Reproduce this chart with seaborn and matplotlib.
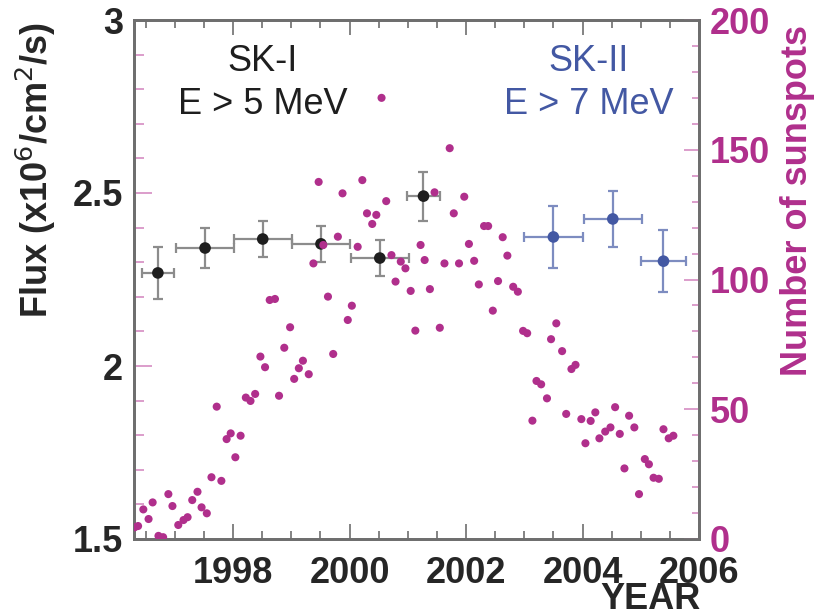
import matplotlib
matplotlib.use("Agg")
import matplotlib.pyplot as plt
from matplotlib.ticker import MultipleLocator
import seaborn as sns
import pandas as pd

# Monthly sunspot numbers
sunspot_year = [
    1996.31, 1996.37, 1996.46, 1996.55, 1996.62, 1996.72, 1996.80, 1996.89, 1996.96,
    1997.06, 1997.15, 1997.22, 1997.30, 1997.39, 1997.46, 1997.55, 1997.63, 1997.72,
    1997.80, 1997.89, 1997.96, 1998.04, 1998.13, 1998.22, 1998.30, 1998.38, 1998.47,
    1998.55, 1998.63, 1998.72, 1998.79, 1998.88, 1998.98, 1999.05, 1999.13, 1999.20,
    1999.30, 1999.38, 1999.47, 1999.55, 1999.63, 1999.72, 1999.80, 1999.88, 1999.97,
    2000.04, 2000.14, 2000.22, 2000.30, 2000.39, 2000.46, 2000.55, 2000.63, 2000.72,
    2000.79, 2000.88, 2000.96, 2001.05, 2001.13, 2001.22, 2001.29, 2001.38, 2001.46,
    2001.55, 2001.63, 2001.72, 2001.79, 2001.88, 2001.97, 2002.05, 2002.14, 2002.22,
    2002.31, 2002.38, 2002.46, 2002.55, 2002.63, 2002.71, 2002.81, 2002.89, 2002.98,
    2003.05, 2003.14, 2003.21, 2003.29, 2003.39, 2003.46, 2003.55, 2003.65, 2003.72,
    2003.81, 2003.88, 2003.98, 2004.05, 2004.14, 2004.22, 2004.29, 2004.39, 2004.48,
    2004.56, 2004.64, 2004.72, 2004.80, 2004.89, 2004.97, 2005.07, 2005.14, 2005.22,
    2005.31, 2005.39, 2005.48, 2005.56,
]
sunspot_count = [
    4.5, 5.0, 11.4, 7.7, 14.1, 1.2, 0.7, 17.3, 12.7,
    5.4, 7.3, 8.4, 15.0, 18.2, 12.2, 9.9, 23.8, 51.0,
    22.4, 38.5, 40.7, 31.5, 39.8, 54.5, 53.2, 55.9, 70.3,
    66.2, 92.1, 92.5, 55.2, 73.7, 81.6, 61.7, 65.8, 68.7,
    63.5, 106.2, 137.6, 113.3, 93.4, 71.3, 116.5, 133.2, 84.4,
    89.9, 112.6, 138.3, 125.5, 121.4, 124.9, 170.0, 130.2, 109.4,
    99.2, 106.9, 104.3, 95.6, 80.3, 113.3, 107.5, 96.3, 133.6,
    81.4, 106.2, 150.6, 125.5, 106.2, 131.9, 113.7, 107.2, 98.1,
    120.6, 120.6, 88.0, 99.4, 116.3, 109.2, 97.2, 95.3, 80.2,
    79.3, 45.6, 60.9, 59.6, 54.2, 77.0, 83.1, 72.4, 48.2,
    65.5, 67.1, 46.2, 36.9, 45.5, 48.8, 38.8, 41.4, 43.0,
    50.8, 40.5, 27.2, 47.5, 43.0, 17.3, 30.8, 28.8, 23.6,
    23.2, 42.3, 38.8, 39.8,
]

# Solar neutrino flux, SK-I (E > 5 MeV)
ski_year = [1996.71, 1997.52, 1998.51, 1999.51, 2000.52, 2001.27]
ski_year_halfwidth = [0.28, 0.5, 0.5, 0.5, 0.5, 0.28]
ski_flux = [2.269, 2.341, 2.367, 2.353, 2.312, 2.491]
ski_flux_err = [0.074, 0.058, 0.052, 0.053, 0.052, 0.071]

# Solar neutrino flux, SK-II (E > 7 MeV)
skii_year = [2003.50, 2004.52, 2005.39]
skii_year_halfwidth = [0.5, 0.5, 0.39]
skii_flux = [2.373, 2.425, 2.303]
skii_flux_err = [0.09, 0.081, 0.09]

year_ticks = [1998, 2000, 2002, 2004, 2006]
flux_ticks = [1.5, 2, 2.5, 3]
flux_tick_labels = ["1.5", "2", "2.5", "3"]
sunspot_ticks = [0, 50, 100, 150, 200]

sns.set_style("white")
plt.rcParams["font.family"] = ["Liberation Sans", "DejaVu Sans"]

MAGENTA = "#b02f8c"
PINK_TICK = "#d58cc2"
FRAME = "#6e6e6e"
BLACK = "#1e1e1e"
BLUE = "#4358a3"
BLUE_LIGHT = "#7d8cc0"
GREY_BAR = "#8c8c8c"

fig = plt.figure(figsize=(8.26, 6.12), dpi=100)
ax = fig.add_axes([134 / 826, 1 - 539 / 612, (699 - 134) / 826, (539 - 20) / 612])

# SK-I flux points
ax.errorbar(ski_year, ski_flux, yerr=ski_flux_err, xerr=ski_year_halfwidth,
            fmt="none", ecolor=GREY_BAR, elinewidth=1.6, capsize=3.8, capthick=1.6,
            zorder=2)
sns.scatterplot(x=ski_year, y=ski_flux, ax=ax, color=BLACK, s=70,
                edgecolor="none", zorder=3)

# SK-II flux points
ax.errorbar(skii_year, skii_flux, yerr=skii_flux_err, xerr=skii_year_halfwidth,
            fmt="none", ecolor=BLUE_LIGHT, elinewidth=1.6, capsize=3.8, capthick=1.6,
            zorder=2)
sns.scatterplot(x=skii_year, y=skii_flux, ax=ax, color=BLUE, s=70,
                edgecolor="none", zorder=3)

ax.set_xlim(1996.3, 2006.0)
ax.set_ylim(1.5, 3.0)

ax.set_xticks(year_ticks)
ax.set_xticklabels([str(y) for y in year_ticks])
ax.xaxis.set_minor_locator(MultipleLocator(0.5))
ax.set_yticks(flux_ticks)
ax.set_yticklabels(flux_tick_labels)
ax.yaxis.set_minor_locator(MultipleLocator(0.1))

ax.tick_params(axis="x", which="both", direction="in", top=True, bottom=True,
               color=FRAME, width=1.2, labelsize=26, labelcolor="#262626", pad=12)
ax.tick_params(axis="x", which="major", length=11)
ax.tick_params(axis="x", which="minor", length=6)
ax.tick_params(axis="y", which="both", direction="in", left=True, right=False,
               color=PINK_TICK, width=1.2, labelsize=26, labelcolor="#262626", pad=8)
ax.tick_params(axis="y", which="major", length=13)
ax.tick_params(axis="y", which="minor", length=7)
for lbl in ax.get_xticklabels() + ax.get_yticklabels():
    lbl.set_fontweight("bold")

for side in ["left", "right", "top", "bottom"]:
    ax.spines[side].set_color(FRAME)
    ax.spines[side].set_linewidth(2.0)

ax.set_ylabel("Flux (x10$^{6}$/cm$^{2}$/s)", fontsize=26, fontweight="bold",
              color="#262626")
ax.yaxis.set_label_coords(-0.134, 0.711)
ax.set_xlabel("")

# Sunspot numbers on the right-hand axis
ax2 = ax.twinx()
df_sun = pd.DataFrame({"year": sunspot_year, "sunspots": sunspot_count})
sns.scatterplot(data=df_sun, x="year", y="sunspots", ax=ax2, color=MAGENTA,
                s=34, edgecolor="none", zorder=4)
ax2.set_ylim(0, 200)
ax2.set_xlim(1996.3, 2006.0)
ax2.set_yticks(sunspot_ticks)
ax2.set_yticklabels([str(v) for v in sunspot_ticks])
ax2.yaxis.set_minor_locator(MultipleLocator(10))
ax2.tick_params(axis="y", which="both", direction="in", right=True, left=False,
                color=PINK_TICK, width=1.2, labelsize=26, labelcolor=MAGENTA, pad=8)
ax2.tick_params(axis="y", which="major", length=11)
ax2.tick_params(axis="y", which="minor", length=5)
for lbl in ax2.get_yticklabels():
    lbl.set_fontweight("bold")
ax2.set_ylabel("Number of sunspots", fontsize=26, fontweight="bold",
               color=MAGENTA)
ax2.yaxis.set_label_coords(1.143, 0.653)
ax2.set_xlabel("")
for side in ["left", "right", "top", "bottom"]:
    ax2.spines[side].set_color(FRAME)
    ax2.spines[side].set_linewidth(2.0)

# Data-set annotations
ax.text(1998.51, 2.88, "SK-I", fontsize=26, color=BLACK, ha="center", va="center")
ax.text(1998.51, 2.755, "E > 5 MeV", fontsize=26, color=BLACK, ha="center", va="center")
ax.text(2004.1, 2.88, "SK-II", fontsize=26, color=BLUE, ha="center", va="center")
ax.text(2004.1, 2.755, "E > 7 MeV", fontsize=26, color=BLUE, ha="center", va="center")

fig.text(701 / 826, 1 - 582 / 612, "YEAR", fontsize=26, fontweight="bold",
         color="#262626", ha="right", va="top")

fig.savefig("out.png", dpi=100)
